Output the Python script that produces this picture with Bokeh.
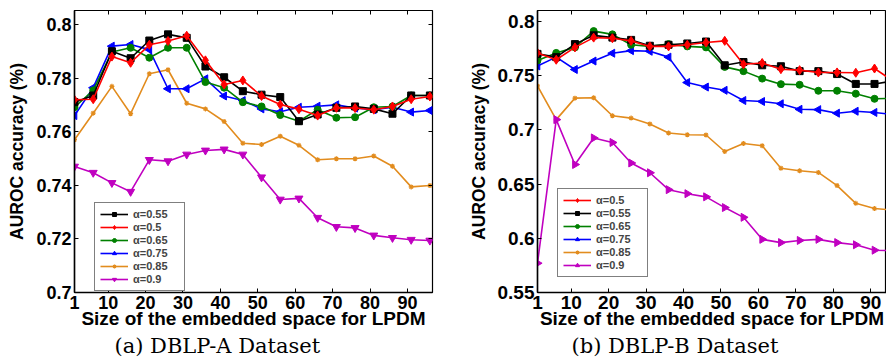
import math
from bokeh.plotting import figure
from bokeh.layouts import row
from bokeh.models import Range1d, LinearAxis, FixedTicker, Legend, LegendItem, Title
from bokeh.embed import file_html
from bokeh.resources import INLINE

# ---------------- data ----------------
sizes = [1, 6, 11, 16, 21, 26, 31, 36, 41, 46, 51, 56, 61, 66, 71, 76, 81, 86, 91, 96]
x_ticks = [1, 10, 20, 30, 40, 50, 60, 70, 80, 90]
x_tick_labels = ["1", "10", "20", "30", "40", "50", "60", "70", "80", "90"]

# DBLP-A
a_ticks = [0.7, 0.72, 0.74, 0.76, 0.78, 0.8]
a_tick_labels = ["0.7", "0.72", "0.74", "0.76", "0.78", "0.8"]
a_055 = [0.7710, 0.7735, 0.7900, 0.7874, 0.7940, 0.7963, 0.7950, 0.7843, 0.7803, 0.7751,
         0.7738, 0.7729, 0.7639, 0.7664, 0.7689, 0.7694, 0.7685, 0.7667, 0.7735, 0.7735]
a_050 = [0.7719, 0.7721, 0.7880, 0.7857, 0.7924, 0.7938, 0.7958, 0.7866, 0.7776, 0.7791,
         0.7733, 0.7701, 0.7684, 0.7660, 0.7689, 0.7688, 0.7682, 0.7694, 0.7721, 0.7731]
a_065 = [0.7691, 0.7754, 0.7897, 0.7913, 0.7876, 0.7913, 0.7913, 0.7785, 0.7764, 0.7710,
         0.7694, 0.7662, 0.7639, 0.7682, 0.7652, 0.7654, 0.7691, 0.7694, 0.7735, 0.7735]
a_075 = [0.7660, 0.7764, 0.7919, 0.7925, 0.7906, 0.7760, 0.7760, 0.7797, 0.7733, 0.7716,
         0.7685, 0.7674, 0.7691, 0.7695, 0.7700, 0.7688, 0.7682, 0.7691, 0.7673, 0.7679]
a_085 = [0.7570, 0.7669, 0.7769, 0.7667, 0.7816, 0.7831, 0.7706, 0.7685, 0.7638, 0.7557,
         0.7552, 0.7583, 0.7549, 0.7495, 0.7499, 0.7499, 0.7509, 0.7471, 0.7394, 0.7399]
a_090 = [0.7470, 0.7447, 0.7409, 0.7376, 0.7495, 0.7490, 0.7515, 0.7530, 0.7534, 0.7515,
         0.7430, 0.7347, 0.7351, 0.7279, 0.7245, 0.7241, 0.7213, 0.7204, 0.7197, 0.7194]

# DBLP-B
b_ticks = [0.55, 0.6, 0.65, 0.7, 0.75, 0.8]
b_tick_labels = ["0.55", "0.6", "0.65", "0.7", "0.75", "0.8"]
b_050 = [0.7709, 0.7646, 0.7760, 0.7850, 0.7844, 0.7820, 0.7769, 0.7769, 0.7784, 0.7805,
         0.7820, 0.7604, 0.7616, 0.7559, 0.7550, 0.7529, 0.7529, 0.7526, 0.7565, 0.7450]
b_055 = [0.7700, 0.7670, 0.7790, 0.7871, 0.7850, 0.7829, 0.7775, 0.7784, 0.7796, 0.7814,
         0.7595, 0.7625, 0.7595, 0.7586, 0.7541, 0.7541, 0.7514, 0.7423, 0.7423, 0.7450]
b_065 = [0.7640, 0.7709, 0.7760, 0.7910, 0.7880, 0.7784, 0.7769, 0.7790, 0.7769, 0.7760,
         0.7580, 0.7541, 0.7472, 0.7421, 0.7415, 0.7360, 0.7360, 0.7333, 0.7286, 0.7290]
b_075 = [0.7589, 0.7670, 0.7556, 0.7634, 0.7706, 0.7730, 0.7724, 0.7670, 0.7436, 0.7394,
         0.7364, 0.7270, 0.7261, 0.7240, 0.7189, 0.7186, 0.7153, 0.7171, 0.7160, 0.7140]
b_085 = [0.7405, 0.7094, 0.7292, 0.7295, 0.7130, 0.7108, 0.7054, 0.6970, 0.6955, 0.6952,
         0.6800, 0.6874, 0.6853, 0.6646, 0.6622, 0.6607, 0.6486, 0.6322, 0.6274, 0.6260]
b_090 = [0.5770, 0.7094, 0.6680, 0.6925, 0.6883, 0.6694, 0.6604, 0.6448, 0.6411, 0.6382,
         0.6283, 0.6193, 0.5990, 0.5960, 0.5980, 0.5990, 0.5960, 0.5940, 0.5890, 0.5885]

# ---------------- styles ----------------
ORANGE = "#E28C1E"
MAGENTA = "#C000C0"
GREEN = "#008000"
FONT = "Liberation Sans"
H = 358


def style(name, down):
    table = {
        "0.5": ("red", "diamond", 9, 0.0),
        "0.55": ("black", "square", 7, 0.0),
        "0.65": (GREEN, "circle", 7, 0.0),
        "0.75": ("blue", "triangle", 8, math.pi / 2),
        "0.85": (ORANGE, "asterisk", 5, 0.0),
        "0.9": (MAGENTA, "inverted_triangle" if down else "triangle", 8, 0.0 if down else -math.pi / 2),
    }
    return table[name]


def mirror_axis(ticks):
    return LinearAxis(ticker=FixedTicker(ticks=ticks), major_label_text_font_size="0px",
                      major_label_text_color=None, major_label_standoff=0,
                      major_tick_in=4, major_tick_out=0, minor_tick_line_color=None,
                      axis_line_color=None)


def panel(width, bl, br, bt, bb, x_end, y_start, y_end, yt, ytl, tick_size,
          series, order, caption, cap_offset, leg_loc, right_axis, down):
    p = figure(width=width, height=H, output_backend="svg", toolbar_location=None,
               x_range=Range1d(1, x_end), y_range=Range1d(y_start, y_end),
               min_border_left=bl, min_border_right=br, min_border_top=bt, min_border_bottom=bb,
               background_fill_color="white", border_fill_color="white")
    p.grid.visible = False
    p.outline_line_color = "black"
    p.outline_line_width = 1.2

    p.xaxis.ticker = FixedTicker(ticks=x_ticks)
    p.xaxis.major_label_overrides = dict(zip(x_ticks, x_tick_labels))
    p.yaxis.ticker = FixedTicker(ticks=yt)
    p.yaxis.major_label_overrides = dict(zip(yt, ytl))
    for ax in (p.xaxis[0], p.yaxis[0]):
        ax.major_tick_in = 4
        ax.major_tick_out = 0
        ax.minor_tick_line_color = None
        ax.axis_line_width = 1.5
        ax.major_label_text_font = FONT
        ax.major_label_text_font_style = "bold"
        ax.major_label_text_font_size = tick_size
        ax.major_label_text_color = "black"
        ax.axis_label_text_font = FONT
        ax.axis_label_text_font_style = "bold"
        ax.axis_label_text_color = "black"
    p.xaxis.major_label_standoff = 3
    p.yaxis.major_label_standoff = 3
    p.xaxis.axis_label = "Size of the embedded space for LPDM"
    p.xaxis.axis_label_text_font_size = "19px"
    p.xaxis.axis_label_standoff = -4
    p.yaxis.axis_label = "AUROC accuracy (%)"
    p.yaxis.axis_label_text_font_size = "17.5px"
    p.yaxis.axis_label_standoff = 6

    p.add_layout(mirror_axis(x_ticks), "above")
    if right_axis:
        p.add_layout(mirror_axis(yt), "right")

    items = {}
    for name, ys in series:
        color, marker, size, angle = style(name, down)
        ln = p.line(sizes, ys, line_color=color, line_width=1.6)
        if marker == "asterisk":
            sc = p.scatter(sizes, ys, marker=marker, size=size, line_color=color, line_width=1.2)
        else:
            sc = p.scatter(sizes, ys, marker=marker, size=size, angle=angle,
                           fill_color=color, line_color=color, line_width=1)
        items[name] = LegendItem(label="\u03b1=" + name, renderers=[ln, sc])

    leg = Legend(items=[items[k] for k in order], location=leg_loc, label_text_font=FONT,
                 label_text_font_style="bold", label_text_font_size="11px", glyph_width=28,
                 glyph_height=10, label_height=10, label_width=46, spacing=1, padding=5, margin=0,
                 label_standoff=5, border_line_color="black", border_line_width=1.2,
                 background_fill_alpha=1)
    p.add_layout(leg)

    cap = Title(text=caption, align="left", offset=cap_offset, text_font="DejaVu Serif",
                text_font_style="normal", text_font_size="21px", standoff=0, text_color="black")
    p.add_layout(cap, "below")
    return p


series_a = [("0.85", a_085), ("0.9", a_090), ("0.75", a_075), ("0.65", a_065),
            ("0.55", a_055), ("0.5", a_050)]
series_b = [("0.85", b_085), ("0.9", b_090), ("0.75", b_075), ("0.65", b_065),
            ("0.55", b_055), ("0.5", b_050)]

pa = panel(465, 74, 33, 10, 65, 96.7, 0.7, 0.8052, a_ticks, a_tick_labels, "18px",
           series_a, ["0.55", "0.5", "0.65", "0.75", "0.85", "0.9"],
           "(a) DBLP-A Dataset", 40, (20, 1), True, True)

pb = panel(421, 66, 0, 6, 66, 94.2, 0.55, 0.81, b_ticks, b_tick_labels, "19px",
           series_b, ["0.5", "0.55", "0.65", "0.75", "0.85", "0.9"],
           "(b) DBLP-B Dataset", 34, (20, 15), False, False)

layout = row(pa, pb, spacing=0)
open("out.html", "w").write(file_html(layout, INLINE))
